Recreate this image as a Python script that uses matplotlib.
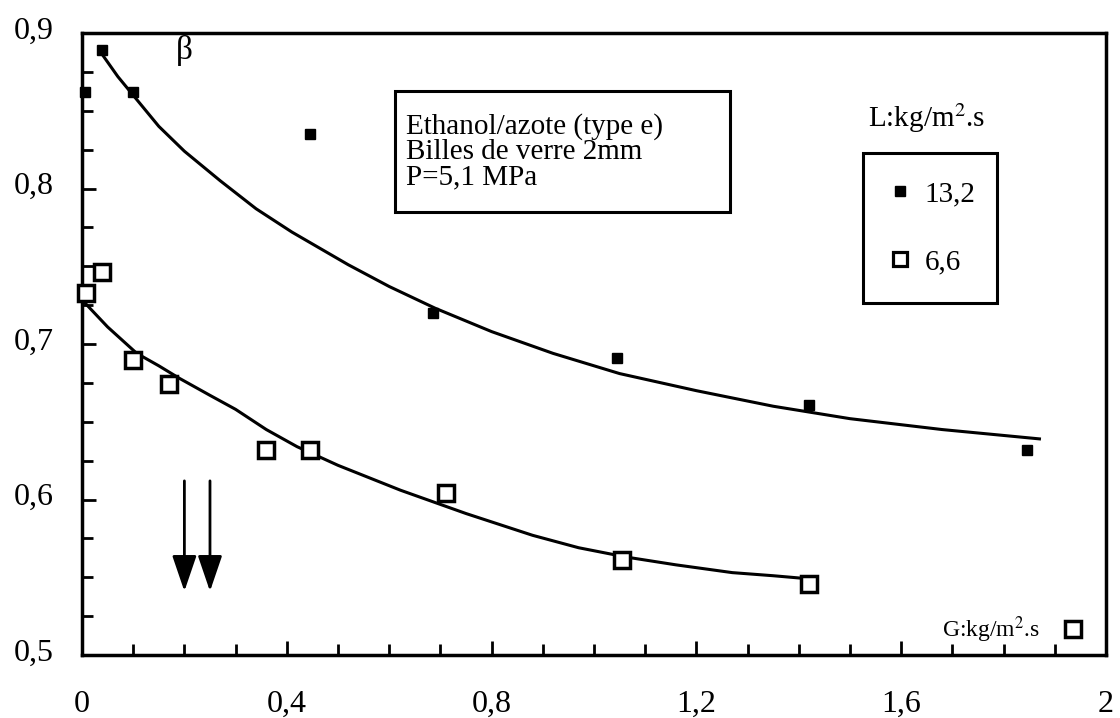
import matplotlib
matplotlib.use("Agg")
import matplotlib.pyplot as plt
import matplotlib.transforms as mtransforms
from matplotlib.patches import Rectangle
from matplotlib.ticker import MultipleLocator, FixedLocator, FixedFormatter
from matplotlib.lines import Line2D

plt.rcParams['font.family'] = ['Liberation Serif', 'DejaVu Serif']
plt.rcParams['mathtext.fontset'] = 'stix'

# measured points, L = 13,2 kg/m2.s (filled squares)
g_132 = [0.005, 0.04, 0.10, 0.445, 0.686, 1.045, 1.42, 1.846]
beta_132 = [0.862, 0.889, 0.862, 0.835, 0.720, 0.691, 0.661, 0.632]

# measured points, L = 6,6 kg/m2.s (open squares)
g_66 = [0.007, 0.04, 0.10, 0.17, 0.36, 0.445, 0.71, 1.055, 1.42, 1.935]
beta_66 = [0.733, 0.746, 0.690, 0.674, 0.632, 0.632, 0.604, 0.561, 0.546, 0.517]

# fitted curves
fit_g_132 = [0.04, 0.07, 0.10, 0.15, 0.20, 0.27, 0.34, 0.41, 0.52, 0.60, 0.69,
             0.80, 0.92, 1.05, 1.20, 1.35, 1.50, 1.68, 1.87]
fit_b_132 = [0.886, 0.872, 0.860, 0.840, 0.824, 0.805, 0.787, 0.772, 0.751, 0.737, 0.723,
             0.708, 0.694, 0.681, 0.670, 0.660, 0.652, 0.645, 0.639]

fit_g_66 = [0.007, 0.05, 0.107, 0.15, 0.19, 0.25, 0.30, 0.36, 0.42, 0.50, 0.622,
            0.75, 0.88, 0.97, 1.063, 1.16, 1.27, 1.35, 1.42]
fit_b_66 = [0.726, 0.711, 0.694, 0.686, 0.678, 0.667, 0.658, 0.645, 0.634, 0.622, 0.606,
            0.591, 0.577, 0.569, 0.563, 0.558, 0.553, 0.551, 0.549]

# arrows marking the transition
arrow_g = [0.20, 0.25]

x_ticks = [0, 0.4, 0.8, 1.2, 1.6, 2.0]
x_labels = ["0", "0,4", "0,8", "1,2", "1,6", "2"]
y_ticks = [0.5, 0.6, 0.7, 0.8, 0.9]
y_labels = ["0,5", "0,6", "0,7", "0,8", "0,9"]

fig = plt.figure(figsize=(11.2, 7.18), dpi=100)
ax = fig.add_axes([0.0732, 0.0877, 0.9143, 0.8663])

ax.plot(fit_g_132, fit_b_132, color='black', lw=2.2, zorder=2)
ax.plot(fit_g_66, fit_b_66, color='black', lw=2.2, zorder=2)

ax.plot(g_132, beta_132, ls='none', marker='s', ms=7, color='black', zorder=3, clip_on=False)
ax.plot(g_66, beta_66, ls='none', marker='s', ms=11, mfc='white', mec='black', mew=2.5,
        zorder=3, clip_on=False)

for g in arrow_g:
    ax.annotate("", xy=(g, 0.541), xytext=(g, 0.612),
                arrowprops=dict(arrowstyle='-|>,head_length=2.2,head_width=0.75',
                                color='black', lw=2, shrinkA=0, shrinkB=0))

ax.set_xlim(0, 2)
ax.set_ylim(0.5, 0.9)
ax.xaxis.set_major_locator(FixedLocator(x_ticks))
ax.xaxis.set_major_formatter(FixedFormatter(x_labels))
ax.yaxis.set_major_locator(FixedLocator(y_ticks))
ax.yaxis.set_major_formatter(FixedFormatter(y_labels))
ax.xaxis.set_minor_locator(MultipleLocator(0.1))
ax.yaxis.set_minor_locator(MultipleLocator(0.025))
ax.tick_params(which='both', direction='in', width=2, top=False, right=False)
ax.tick_params(which='major', length=10, labelsize=23)
ax.tick_params(which='minor', length=8)
ax.tick_params(axis='x', which='major', pad=25)
ax.tick_params(axis='y', which='major', pad=20)
for s in ax.spines.values():
    s.set_linewidth(2.5)
shift = mtransforms.ScaledTranslation(0, 4 / 72, fig.dpi_scale_trans)
for lab in ax.get_yticklabels():
    lab.set_transform(lab.get_transform() + shift)

ax.text(0.2, 0.889, "β", fontsize=24, ha='center', va='center')

# info box
ax.add_patch(Rectangle((0.612, 0.785), 0.653, 0.078, fill=False, ec='black', lw=2.2, zorder=4))
ax.text(0.632, 0.8235,
        "Ethanol/azote (type e)\nBilles de verre 2mm\nP=5,1 MPa",
        fontsize=21, ha='left', va='center', linespacing=0.95)

ax.text(1.535, 0.845, "L:kg/m$^2$.s", fontsize=21, ha='left', va='center')
ax.text(1.68, 0.516, "G:kg/m$^2$.s", fontsize=17, ha='left', va='center')

# legend frame and entries
ax.add_patch(Rectangle((0.763, 0.566), 0.131, 0.241, transform=ax.transAxes,
                       fill=False, ec='black', lw=2.2, zorder=4))
handles = [Line2D([], [], ls='none', marker='s', ms=7, color='black'),
           Line2D([], [], ls='none', marker='s', ms=10, mfc='white', mec='black', mew=2.3)]
ax.legend(handles, ["13,2", "6,6"], loc='center left', bbox_to_anchor=(0.79, 0.6865),
          fontsize=21, frameon=False, labelspacing=1.45, borderpad=0,
          handlelength=0.6, handletextpad=0.55, borderaxespad=0)

fig.savefig("out.png", dpi=100)
